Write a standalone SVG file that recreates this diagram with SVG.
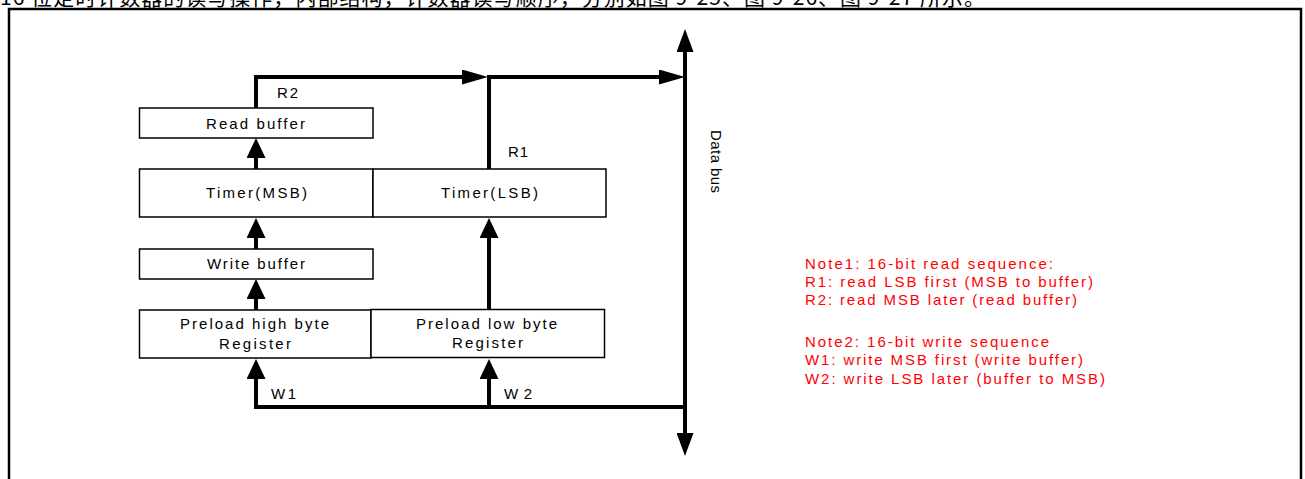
<svg xmlns="http://www.w3.org/2000/svg" width="1305" height="479" viewBox="0 0 1305 479">
<style>
.t{font-family:"Liberation Sans",Arial,sans-serif;font-size:15px;fill:#000}
.m{text-anchor:middle}
.n{font-family:"Liberation Sans",Arial,sans-serif;font-size:15px;fill:#ff0000}
.box{fill:#fff;stroke:#000;stroke-width:1.5}
.w{fill:none;stroke:#000;stroke-width:4}
.cap{font-family:"Noto Sans CJK SC",sans-serif;font-size:21px;fill:#000}
</style>
<defs>
<marker id="av" markerUnits="userSpaceOnUse" markerWidth="20" markerHeight="19" refX="0" refY="9.5" orient="auto" viewBox="0 0 20 19"><path d="M0,0 L20,9.5 L0,19 z" fill="#000"/></marker>
<marker id="ah" markerUnits="userSpaceOnUse" markerWidth="26" markerHeight="15" refX="0" refY="7.5" orient="auto" viewBox="0 0 26 15"><path d="M0,0 L26,7.5 L0,15 z" fill="#000"/></marker>
<marker id="ab" markerUnits="userSpaceOnUse" markerWidth="23" markerHeight="17" refX="0" refY="8.5" orient="auto-start-reverse" viewBox="0 0 23 17"><path d="M0,0 L23,8.5 L0,17 z" fill="#000"/></marker>
</defs>
<rect width="1305" height="479" fill="#fff"/>
<text class="cap" x="0" y="5" textLength="985" lengthAdjust="spacing">16 位定时计数器的读写操作，内部结构，计数器读写顺序，分别如图 9-25、图 9-26、图 9-27 所示。</text>
<path d="M9,490 V9 H1301 V490" fill="none" stroke="#000" stroke-width="2.5"/>

<g id="connectors">
<path class="w" d="M256,108 V77 H462" marker-end="url(#ah)"/>
<path class="w" d="M489,169 V77 H659" marker-end="url(#ah)"/>
<path class="w" d="M685,52 V433" marker-start="url(#ab)" marker-end="url(#ab)"/>
<path class="w" d="M256,169 V158" marker-end="url(#av)"/>
<path class="w" d="M256,249 V238" marker-end="url(#av)"/>
<path class="w" d="M256,310 V299" marker-end="url(#av)"/>
<path class="w" d="M489,309 V238" marker-end="url(#av)"/>
<path class="w" d="M685,407 H256 V379" marker-end="url(#av)"/>
<path class="w" d="M489,407 V379" marker-end="url(#av)"/>
<text class="t" x="277" y="98" textLength="21" lengthAdjust="spacing">R2</text>
<text class="t" x="508" y="157" textLength="20" lengthAdjust="spacing">R1</text>
<text class="t" x="271" y="399" textLength="25" lengthAdjust="spacing">W1</text>
<text class="t" x="504" y="399" textLength="28" lengthAdjust="spacing">W2</text>
</g>

<g id="read-buffer">
<rect class="box" x="139.5" y="108" width="233.5" height="30"/>
<text class="t m" x="255.5" y="128.5" textLength="99" lengthAdjust="spacing">Read buffer</text>
</g>
<g id="timer-msb">
<rect class="box" x="139.5" y="169" width="233.5" height="48"/>
<text class="t m" x="256.5" y="197.5" textLength="101" lengthAdjust="spacing">Timer(MSB)</text>
</g>
<g id="timer-lsb">
<rect class="box" x="373" y="169" width="233" height="48"/>
<text class="t m" x="489.5" y="197.5" textLength="97" lengthAdjust="spacing">Timer(LSB)</text>
</g>
<g id="write-buffer">
<rect class="box" x="139.5" y="249" width="233.5" height="30"/>
<text class="t m" x="256" y="268.5" textLength="98" lengthAdjust="spacing">Write buffer</text>
</g>
<g id="preload-high">
<rect class="box" x="139.5" y="310" width="231.5" height="48"/>
<text class="t m" x="254.5" y="329" textLength="149" lengthAdjust="spacing">Preload high byte</text>
<text class="t m" x="255" y="349" textLength="72" lengthAdjust="spacing">Register</text>
</g>
<g id="preload-low">
<rect class="box" x="371" y="309.5" width="233.5" height="48"/>
<text class="t m" x="486.5" y="329" textLength="141" lengthAdjust="spacing">Preload low byte</text>
<text class="t m" x="487.5" y="348" textLength="71" lengthAdjust="spacing">Register</text>
</g>
<g id="data-bus">
<text class="t m" transform="translate(711,161.5) rotate(90)" x="0" y="0" textLength="63" lengthAdjust="spacing">Data bus</text>
</g>
<g id="notes">
<text class="n" x="805" y="269" textLength="248" lengthAdjust="spacing">Note1: 16-bit read sequence:</text>
<text class="n" x="805" y="287" textLength="288" lengthAdjust="spacing">R1: read LSB first (MSB to buffer)</text>
<text class="n" x="805" y="305" textLength="272" lengthAdjust="spacing">R2: read MSB later (read buffer)</text>
<text class="n" x="805" y="347" textLength="244" lengthAdjust="spacing">Note2: 16-bit write sequence</text>
<text class="n" x="805" y="365" textLength="278" lengthAdjust="spacing">W1: write MSB first (write buffer)</text>
<text class="n" x="805" y="384" textLength="300" lengthAdjust="spacing">W2: write LSB later (buffer to MSB)</text>
</g>
</svg>
